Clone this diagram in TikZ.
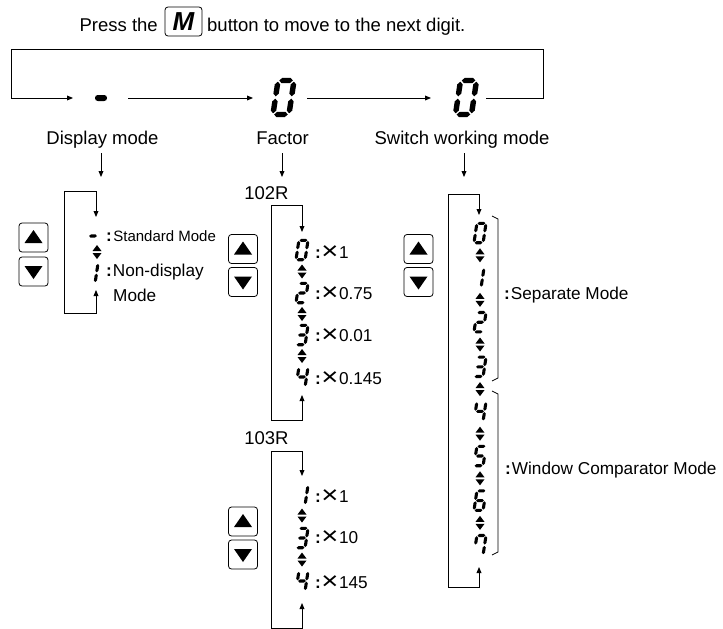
\documentclass[tikz,border=0pt]{standalone}
\usepackage{fontspec}
\setmainfont{Liberation Sans}
\usepackage{graphicx}
\usetikzlibrary{arrows.meta,calc}

\tikzset{
  segfill/.style={fill=black},
  ln/.style={line width=0.9pt, draw=black},
  arr/.style={ln, -{Triangle[length=6pt,width=4.8pt]}},
  lbl/.style={font=\fontsize{18.5}{21}\selectfont, inner sep=0pt},
  lbls/.style={font=\fontsize{17.2}{20}\selectfont, inner sep=0pt},
  lblxs/.style={font=\fontsize{15}{18}\selectfont, inner sep=0pt},
  btn/.style={draw, line width=0.8pt, rounded corners=3pt, minimum width=29pt, minimum height=29pt, inner sep=0pt},
  mbtn/.style={draw, line width=0.8pt, rounded corners=3pt, minimum width=37pt, minimum height=29pt, inner sep=0pt, font=\fontsize{26}{26}\selectfont\bfseries\itshape},
  brk/.style={line width=0.7pt},
}

\newcommand\hseg[3]{\fill[segfill] (#1,#3) -- (#1+0.16,#3+0.16) -- (#2-0.16,#3+0.16) -- (#2,#3) -- (#2-0.16,#3-0.16) -- (#1+0.16,#3-0.16) -- cycle;}
\newcommand\vseg[3]{\fill[segfill] (#1,#2) -- (#1+0.16,#2+0.16) -- (#1+0.16,#3-0.16) -- (#1,#3) -- (#1-0.16,#3-0.16) -- (#1-0.16,#2+0.16) -- cycle;}
\def\sga{\hseg{-0.40}{0.40}{1}}
\def\sgg{\hseg{-0.40}{0.40}{0}}
\def\sgd{\hseg{-0.40}{0.40}{-1}}
\def\sgf{\vseg{-0.47}{0.07}{0.93}}
\def\sgb{\vseg{0.47}{0.07}{0.93}}
\def\sge{\vseg{-0.47}{-0.93}{-0.07}}
\def\sgc{\vseg{0.47}{-0.93}{-0.07}}
\newcommand\segdigit[4]{\begin{scope}[shift={(#1,#2)},x=1pt,y=1pt,scale=#3,xslant=0.15]\foreach \segname in {#4}{\csname sg\segname\endcsname}\end{scope}}
\newcommand\updn[2]{\fill (#1-4.5,#2-1) -- (#1+4.5,#2-1) -- (#1,#2-7) -- cycle; \fill (#1-4.5,#2+1) -- (#1+4.5,#2+1) -- (#1,#2+7) -- cycle;}
\newcommand\uptri[1]{\fill ($(#1)+(-9,5.5)$) -- ($(#1)+(9,5.5)$) -- ($(#1)+(0,-7.5)$) -- cycle;}
\newcommand\dntri[1]{\fill ($(#1)+(-9,-5.5)$) -- ($(#1)+(9,-5.5)$) -- ($(#1)+(0,7.5)$) -- cycle;}
\newcommand\mx{\raisebox{-0.1em}{\scalebox{1.7}[1.45]{×}}}
\newcommand\flab[1]{{\bfseries:}\hspace{0.5pt}\mx\hspace{0.5pt}#1}

\begin{document}
\begin{tikzpicture}[x=1pt,y=-1pt]
\useasboundingbox (0,0) rectangle (723,629);

% ---- top line
\node[lbl, anchor=base east] (press) at (158,31) {Press the};
\node[mbtn] (mkey) at (183.5,21.5) {M};
\node[lbl, anchor=base west] (rest) at (207,31) {button to move to the next digit.};

\coordinate (q0) at (486,98);
\coordinate (q1) at (543,98);
\coordinate (q2) at (11,49);
\coordinate (q3) at (11,98);
\coordinate (q4) at (73,98);
\draw[arr] (q0) -- (q1) |- (q2) -- (q3) -- (q4);
\fill[rounded corners=2.8pt] (95,95) rectangle (107,101);
\coordinate (a1s) at (128,98);
\coordinate (a1e) at (253,98);
\draw[arr] (a1s) -- (a1e);
\segdigit{283.5}{97.5}{17}{a,b,c,d,e,f}
\coordinate (a2s) at (307,98);
\coordinate (a2e) at (431,98);
\draw[arr] (a2s) -- (a2e);
\segdigit{466}{97.5}{17}{a,b,c,d,e,f}

% ---- column labels
\node[lbl, anchor=base] (ldisp) at (102.5,144) {Display mode};
\node[lbl, anchor=base] (lfac) at (282.5,144) {Factor};
\node[lbl, anchor=base] (lsw) at (462,144) {Switch working mode};
\coordinate (dd0) at (101,153); \coordinate (dd1) at (101,177);
\coordinate (df0) at (282,153); \coordinate (df1) at (282,177);
\coordinate (ds0) at (464,153); \coordinate (ds1) at (464,177);
\draw[arr] (dd0) -- (dd1);
\draw[arr] (df0) -- (df1);
\draw[arr] (ds0) -- (ds1);

% ---- display mode column
\coordinate (dl) at (64,252);
\coordinate (dtopA) at (96,191); \coordinate (dtopB) at (96,217);
\coordinate (dbotA) at (96,313); \coordinate (dbotB) at (96,290);
\draw[arr] (dl) |- (dtopA) -- (dtopB);
\draw[arr] (dl) |- (dbotA) -- (dbotB);
\node[btn] (dbu) at (33.5,237.5) {};
\node[btn] (dbd) at (33.5,271.5) {};
\uptri{dbu}
\dntri{dbd}
\segdigit{93}{236}{9.7}{g}
\updn{97}{252}
\segdigit{92}{273}{9.7}{b,c}
\node[lblxs, anchor=base west] (lstd) at (106,241) {{\bfseries\fontsize{17}{18}\selectfont:}\hspace{1.5pt}Standard Mode};
\node[lbls, anchor=base west] (lnon) at (106,276) {{\bfseries:}\hspace{1pt}Non-display};
\node[lbls, anchor=base west] (lnon2) at (113,301) {Mode};

% ---- factor 102R
\node[lbl, anchor=base] (l102) at (266.5,199) {102R};
\coordinate (fl) at (271,312);
\coordinate (ftA) at (302,205); \coordinate (ftB) at (302,232);
\coordinate (fbA) at (302,420); \coordinate (fbB) at (302,395);
\draw[arr] (fl) |- (ftA) -- (ftB);
\draw[arr] (fl) |- (fbA) -- (fbB);
\node[btn] (fbu) at (243,249) {};
\node[btn] (fbd) at (243,282) {};
\uptri{fbu}
\dntri{fbd}
\segdigit{302}{250}{9.7}{a,b,c,d,e,f}
\updn{302}{271.5}
\segdigit{302}{293}{9.7}{a,b,g,e,d}
\updn{302}{314}
\segdigit{302}{335}{9.7}{a,b,g,c,d}
\updn{302}{356}
\segdigit{302}{377}{9.7}{f,g,b,c}
\node[lbls, anchor=base west] (f1) at (315,258) {\flab{1}};
\node[lbls, anchor=base west] (f2) at (315,299) {\flab{0.75}};
\node[lbls, anchor=base west] (f3) at (315,341) {\flab{0.01}};
\node[lbls, anchor=base west] (f4) at (315,384) {\flab{0.145}};

% ---- factor 103R
\node[lbl, anchor=base] (l103) at (266.5,444) {103R};
\coordinate (gl) at (271,540);
\coordinate (gtA) at (302,451); \coordinate (gtB) at (302,476);
\coordinate (gbA) at (302,628); \coordinate (gbB) at (302,603);
\draw[arr] (gl) |- (gtA) -- (gtB);
\draw[arr] (gl) |- (gbA) -- (gbB);
\node[btn] (gbu) at (243,521.5) {};
\node[btn] (gbd) at (243,554.5) {};
\uptri{gbu}
\dntri{gbd}
\segdigit{302}{495}{9.7}{b,c}
\updn{302}{515.5}
\segdigit{302}{538}{9.7}{a,b,g,c,d}
\updn{302}{559.5}
\segdigit{302}{581}{9.7}{f,g,b,c}
\node[lbls, anchor=base west] (g1) at (315,502) {\flab{1}};
\node[lbls, anchor=base west] (g2) at (315,543) {\flab{10}};
\node[lbls, anchor=base west] (g3) at (315,588) {\flab{145}};

% ---- switch working mode
\coordinate (sl) at (448,390);
\coordinate (stA) at (479,194); \coordinate (stB) at (479,215);
\coordinate (sbA) at (479,587); \coordinate (sbB) at (479,567);
\draw[arr] (sl) |- (stA) -- (stB);
\draw[arr] (sl) |- (sbA) -- (sbB);
\node[btn] (sbu) at (418.5,249) {};
\node[btn] (sbd) at (418.5,282) {};
\uptri{sbu}
\dntri{sbd}
\segdigit{480}{233}{9.7}{a,b,c,d,e,f}
\updn{480}{255.3}
\segdigit{478}{277.6}{9.7}{b,c}
\updn{480}{299.9}
\segdigit{480}{322.2}{9.7}{a,b,g,e,d}
\updn{480}{344.5}
\segdigit{480}{366.8}{9.7}{a,b,g,c,d}
\updn{480}{389.1}
\segdigit{480}{411.4}{9.7}{f,g,b,c}
\updn{480}{433.7}
\segdigit{480}{456}{9.7}{a,f,g,c,d}
\updn{480}{478.3}
\segdigit{480}{500.6}{9.7}{a,f,g,e,c,d}
\updn{480}{522.9}
\segdigit{480}{545.2}{9.7}{a,f,b,c}
\draw[brk] (492,216) -- (498,219) -- (498,378) -- (492,381);
\draw[brk] (492,391) -- (498,394) -- (498,552) -- (492,555);
\node[lbls, anchor=base west] (lsep) at (504,299) {{\bfseries:}\hspace{1pt}Separate Mode};
\node[lbls, anchor=base west] (lwin) at (505,474) {{\bfseries:}\hspace{1pt}Window Comparator Mode};
\end{tikzpicture}
\end{document}
